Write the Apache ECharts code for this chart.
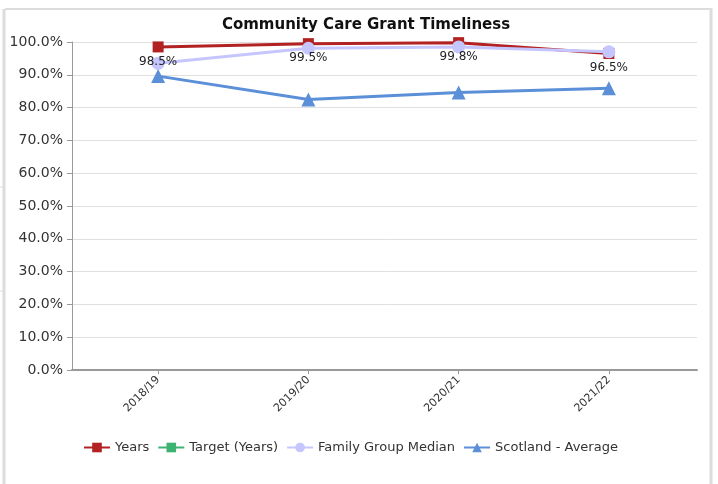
<!DOCTYPE html>
<html><head><meta charset="utf-8">
<script src="https://cdn.jsdelivr.net/npm/echarts@6/dist/echarts.min.js"></script>
<style>html,body{margin:0;padding:0;background:#fff}#c{width:718px;height:484px}</style>
</head><body><div id="c"></div>
<script>
const categories = ['2018/19', '2019/20', '2020/21', '2021/22'];
const years = [98.5, 99.5, 99.8, 96.5];
const targetYears = [];
const familyGroupMedian = [93.5, 98.1, 98.5, 97.0];
const scotlandAverage = [89.6, 82.5, 84.6, 85.9];
const yTicksMin = 0, yTicksMax = 100, yTicksStep = 10;

const font = 'DejaVu Sans';
const chart = echarts.init(document.getElementById('c'));
chart.setOption({
  animation: false,
  backgroundColor: '#fff',
  title: {
    text: 'Community Care Grant Timeliness', left: 361, textAlign: 'center', top: 13,
    textStyle: { fontFamily: font, fontSize: 15, fontWeight: 'bold', color: '#111' }
  },
  graphic: [
    { type: 'line', shape: { x1: 5, y1: 9, x2: 712, y2: 9 }, style: { stroke: '#dcdcdc', lineWidth: 2 } },
    { type: 'line', shape: { x1: 4, y1: 9, x2: 4, y2: 484 }, style: { stroke: '#dcdcdc', lineWidth: 3 } },
    { type: 'line', shape: { x1: 711, y1: 8, x2: 711, y2: 484 }, style: { stroke: '#dcdcdc', lineWidth: 3 } },
    { type: 'line', shape: { x1: 0, y1: 187, x2: 4, y2: 187 }, style: { stroke: '#dcdcdc', lineWidth: 1 } },
    { type: 'line', shape: { x1: 0, y1: 291, x2: 4, y2: 291 }, style: { stroke: '#dcdcdc', lineWidth: 1 } }
  ],
  legend: {
    bottom: 25, left: 78, itemGap: 8, itemWidth: 26, itemHeight: 12,
    textStyle: { fontFamily: font, fontSize: 13, color: '#333' },
    data: ['Years', 'Target (Years)', 'Family Group Median', 'Scotland - Average']
  },
  grid: [
    { left: 72, right: 21, top: 42, bottom: 114 },
    { left: 83, right: 34, top: 42, bottom: 114 }
  ],
  xAxis: [
    { gridIndex: 0, type: 'category', data: categories, axisLabel: { show: false }, axisTick: { show: false },
      axisLine: { lineStyle: { color: '#999', width: 2 } } },
    { gridIndex: 1, type: 'category', data: categories, boundaryGap: true,
      axisLine: { show: false },
      axisTick: { show: true, alignWithLabel: true, length: 4, lineStyle: { color: '#999' } },
      axisLabel: { rotate: 45, fontFamily: font, fontSize: 11, color: '#333', margin: 8 } }
  ],
  yAxis: [
    { gridIndex: 0, type: 'value', min: yTicksMin, max: yTicksMax, interval: yTicksStep,
      axisLine: { show: true, lineStyle: { color: '#999', width: 1 } },
      axisTick: { show: true, length: 5, lineStyle: { color: '#999' } },
      axisLabel: { fontFamily: font, fontSize: 14, color: '#333', margin: 9, formatter: v => v.toFixed(1) + '%' },
      splitLine: { lineStyle: { color: '#e0e0e0' } } },
    { gridIndex: 1, type: 'value', min: yTicksMin, max: yTicksMax, show: false, splitLine: { show: false } }
  ],
  series: [
    { name: 'Years', type: 'line', xAxisIndex: 1, yAxisIndex: 1, data: years, color: '#b22222',
      symbol: 'rect', symbolSize: 11, lineStyle: { width: 3 },
      label: { show: true, position: 'bottom', distance: 3, fontFamily: font, fontSize: 12, color: '#222',
        formatter: p => p.value.toFixed(1) + '%' } },
    { name: 'Target (Years)', type: 'line', xAxisIndex: 1, yAxisIndex: 1, data: targetYears, color: '#3cb371',
      symbol: 'rect', symbolSize: 11, lineStyle: { width: 3 } },
    { name: 'Family Group Median', type: 'line', xAxisIndex: 1, yAxisIndex: 1, data: familyGroupMedian, color: '#c6c6ff',
      symbol: 'circle', symbolSize: 13, lineStyle: { width: 3 } },
    { name: 'Scotland - Average', type: 'line', xAxisIndex: 1, yAxisIndex: 1, data: scotlandAverage, color: '#5b8fd8',
      symbol: 'triangle', symbolSize: 14, lineStyle: { width: 3 } }
  ]
});
</script></body></html>
